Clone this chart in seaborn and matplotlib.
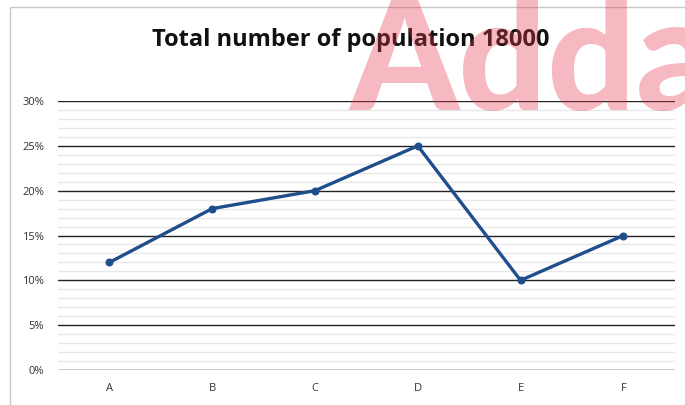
import matplotlib
matplotlib.use("Agg")
import matplotlib.pyplot as plt
import matplotlib.ticker as mticker
import seaborn as sns
import pandas as pd

# chart data
categories = ["A", "B", "C", "D", "E", "F"]
share_pct = [12, 18, 20, 25, 10, 15]
title = "Total number of population 18000"

df = pd.DataFrame({"cat": categories, "pct": share_pct})

sns.set_style("white")
plt.rcParams['font.family'] = ['Open Sans', 'DejaVu Sans']

fig = plt.figure(figsize=(6.85, 4.05), dpi=100)
ax = fig.add_axes([0.0847, 0.0864, 0.9003, 0.6642])

sns.lineplot(data=df, x="cat", y="pct", ax=ax, color="#1f4e8c", lw=2.4,
             marker="o", markersize=5, markeredgecolor="#1f4e8c", sort=False)

ax.set_xlim(-0.5, len(categories) - 0.5)
ax.set_ylim(0, 30)
ax.yaxis.set_major_locator(mticker.MultipleLocator(5))
ax.yaxis.set_minor_locator(mticker.MultipleLocator(1))
ax.yaxis.set_major_formatter(mticker.FuncFormatter(lambda v, p: f"{v:.0f}%"))
ax.grid(which="minor", axis="y", color="#e6e6e6", lw=0.9)
ax.grid(which="major", axis="y", color="#222222", lw=1.0)
ax.set_axisbelow(True)
for s in ax.spines.values():
    s.set_visible(False)
ax.axhline(0, color="#b0b0b0", lw=1.0, zorder=1)
ax.tick_params(axis="both", which="both", length=0, labelsize=8, colors="#333333", pad=10)
ax.tick_params(axis="x", pad=9)
ax.set_xlabel("")
ax.set_ylabel("")

fig.text(0.512, 0.902, title, ha="center", va="center", fontsize=17, fontweight="bold", color="#111111")

# chart frame
fig.add_artist(plt.Rectangle((10 / 685, -0.1), 1.2, 1 - 7 / 405 + 0.1, transform=fig.transFigure,
                             fill=False, edgecolor="#c8c8c8", lw=1.0))

# watermark
fig.text(0.51, 0.728, "Adda", ha="left", va="baseline", fontsize=112, fontweight="black",
         color="#e8384f", alpha=0.35, family=["Lato", "DejaVu Sans"], zorder=10)

fig.savefig("out.png", dpi=100)
